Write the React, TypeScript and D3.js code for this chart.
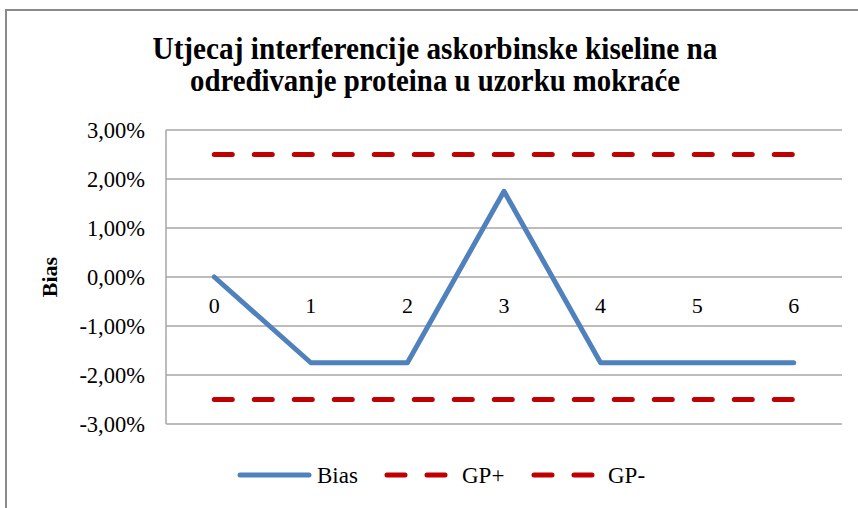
import React from "react";
import * as d3 from "d3";

const categories = ["0", "1", "2", "3", "4", "5", "6"];
const biasValues = [0, -1.75, -1.75, 1.75, -1.75, -1.75, -1.75];
const gpPlusValues = [2.5, 2.5, 2.5, 2.5, 2.5, 2.5, 2.5];
const gpMinusValues = [-2.5, -2.5, -2.5, -2.5, -2.5, -2.5, -2.5];
const yTicks = [3, 2, 1, 0, -1, -2, -3];
const titleLines = [
  "Utjecaj interferencije askorbinske kiseline na",
  "određivanje proteina u uzorku mokraće",
];
const legendItems = ["Bias", "GP+", "GP-"];

const W = 858;
const H = 508;
const plot = { left: 166, right: 842, top: 130, bottom: 424 };
const FONT = "'Liberation Serif', 'Times New Roman', Times, serif";
const BLUE = "#4F81BD";
const RED = "#C00000";

export default function App() {
  const x = d3
    .scaleBand<string>()
    .domain(categories)
    .range([plot.left, plot.right]);
  const cx = (c: string) => (x(c) as number) + x.bandwidth() / 2;
  const y = d3.scaleLinear().domain([-3, 3]).range([plot.bottom, plot.top]);

  const line = d3
    .line<number>()
    .x((_, i) => cx(categories[i]))
    .y((v) => y(v));

  const fmt = (v: number) => v.toFixed(2).replace(".", ",") + "%";
  const ts = { fontFamily: FONT } as React.CSSProperties;

  return (
    <div style={{ position: "fixed", left: 0, top: 0 }}>
      <svg width={W} height={H} style={{ display: "block", background: "#fff", fontFamily: FONT }}>
        <path d={`M6,${H} L6,10 L${W},10`} fill="none" stroke="#8a8a8a" strokeWidth={2} />
        <text
          x={435}
          y={59}
          textAnchor="middle"
          style={ts}
          fontWeight="bold"
          fontSize={31}
          textLength={565}
          lengthAdjust="spacingAndGlyphs"
        >
          {titleLines[0]}
        </text>
        <text
          x={435}
          y={91}
          textAnchor="middle"
          style={ts}
          fontWeight="bold"
          fontSize={31}
          textLength={490}
          lengthAdjust="spacingAndGlyphs"
        >
          {titleLines[1]}
        </text>
        {yTicks.map((t) => (
          <line
            key={t}
            x1={plot.left}
            x2={plot.right}
            y1={y(t)}
            y2={y(t)}
            stroke="#a6a6a6"
            strokeWidth={1.5}
          />
        ))}
        <line
          x1={plot.left}
          x2={plot.left}
          y1={plot.top}
          y2={plot.bottom}
          stroke="#a6a6a6"
          strokeWidth={1.5}
        />
        {yTicks.map((t) => (
          <text
            key={"l" + t}
            x={145}
            y={y(t) + 8}
            textAnchor="end"
            style={ts}
            fontSize={22.5}
            fill="#000"
          >
            {fmt(t)}
          </text>
        ))}
        <text
          transform={`translate(57,${y(0)}) rotate(-90)`}
          textAnchor="middle"
          style={ts}
          fontWeight="bold"
          fontSize={22}
        >
          Bias
        </text>
        {categories.map((c) => (
          <text
            key={"x" + c}
            x={cx(c)}
            y={y(0) + 36}
            textAnchor="middle"
            style={ts}
            fontSize={22}
          >
            {c}
          </text>
        ))}
        <path
          d={line(gpPlusValues) || ""}
          fill="none"
          stroke={RED}
          strokeWidth={5}
          strokeDasharray="18,22"
          strokeLinecap="round"
        />
        <path
          d={line(gpMinusValues) || ""}
          fill="none"
          stroke={RED}
          strokeWidth={5}
          strokeDasharray="18,22"
          strokeLinecap="round"
        />
        <path
          d={line(biasValues) || ""}
          fill="none"
          stroke={BLUE}
          strokeWidth={5}
          strokeLinejoin="round"
          strokeLinecap="round"
        />
        <g style={ts} fontSize={23}>
          <line x1={240} x2={309} y1={475} y2={475} stroke={BLUE} strokeWidth={5} strokeLinecap="round" />
          <text x={317} y={483}>{legendItems[0]}</text>
          <line x1={387} x2={449} y1={475} y2={475} stroke={RED} strokeWidth={5} strokeLinecap="round" strokeDasharray="18,22" />
          <text x={462} y={483}>{legendItems[1]}</text>
          <line x1={534} x2={596} y1={475} y2={475} stroke={RED} strokeWidth={5} strokeLinecap="round" strokeDasharray="18,22" />
          <text x={608} y={483}>{legendItems[2]}</text>
        </g>
      </svg>
    </div>
  );
}
